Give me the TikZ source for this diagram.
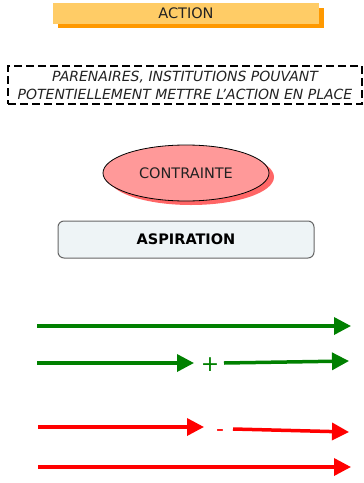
\documentclass[tikz,border=0pt]{standalone}
\usepackage{fontspec}
\setmainfont{DejaVu Sans}
\usetikzlibrary{arrows.meta,shapes.geometric}
\definecolor{actfill}{HTML}{FFCC66}
\definecolor{actshadow}{HTML}{FF9900}
\definecolor{confill}{HTML}{FF9999}
\definecolor{conshadow}{HTML}{FF6666}
\definecolor{aspfill}{HTML}{EEF4F6}
\definecolor{aspline}{HTML}{666666}
\definecolor{grn}{HTML}{008000}
\definecolor{txt}{HTML}{222222}
\tikzset{
  arr/.style={line width=3.5pt,-{Triangle[length=17pt,width=17pt]}},
  sign/.style={inner sep=0pt,font=\fontsize{22}{22}\selectfont},
}
\begin{document}
\begin{tikzpicture}[x=1pt,y=-1pt]
\useasboundingbox (0,0) rectangle (364,483);
% ACTION
\fill[actshadow] (58,8) rectangle (324,28);
\node[fill=actfill,minimum width=266pt,minimum height=21pt,inner sep=0pt,text=txt,font=\fontsize{14.5}{16}\selectfont] (action) at (186,13.5) {ACTION};
% partners
\node[draw,dashed,dash pattern=on 8pt off 4pt,line width=1.5pt,minimum width=354pt,minimum height=38pt,inner sep=0pt,align=center,text=txt,font=\fontsize{14}{18}\selectfont\itshape] (part) at (185,85) {PARENAIRES, INSTITUTIONS POUVANT\\POTENTIELLEMENT METTRE L'ACTION EN PLACE};
% contrainte
\fill[conshadow] (191,177) ellipse (83pt and 28pt);
\node[ellipse,draw=black,line width=0.8pt,fill=confill,minimum width=166pt,minimum height=56pt,inner sep=0pt,text=txt,font=\fontsize{14.5}{16}\selectfont] (contr) at (186,173) {CONTRAINTE};
% aspiration
\node[draw=aspline,line width=1pt,fill=aspfill,rounded corners=6pt,minimum width=256pt,minimum height=37pt,inner sep=0pt,font=\fontsize{14.5}{16}\selectfont\bfseries] (asp) at (186,239.5) {ASPIRATION};
% green arrows
\coordinate (g1s) at (37,326);
\coordinate (g1e) at (351,326);
\draw[arr,grn] (g1s) -- (g1e);
\coordinate (g2s) at (37,363);
\coordinate (g2m) at (194,363);
\node[sign,text=grn] (plus) at (210,365) {+};
\coordinate (g2r) at (224,363);
\coordinate (g2e) at (349,361);
\draw[arr,grn] (g2s) -- (g2m);
\draw[arr,grn] (g2r) -- (g2e);
% red arrows
\coordinate (r1s) at (38,427);
\coordinate (r1m) at (204,427);
\node[sign,text=red] (minus) at (220,433) {-};
\coordinate (r1r) at (233,429);
\coordinate (r1e) at (349,432);
\draw[arr,red] (r1s) -- (r1m);
\draw[arr,red] (r1r) -- (r1e);
\coordinate (r2s) at (38,467);
\coordinate (r2e) at (351,467);
\draw[arr,red] (r2s) -- (r2e);
\end{tikzpicture}
\end{document}
